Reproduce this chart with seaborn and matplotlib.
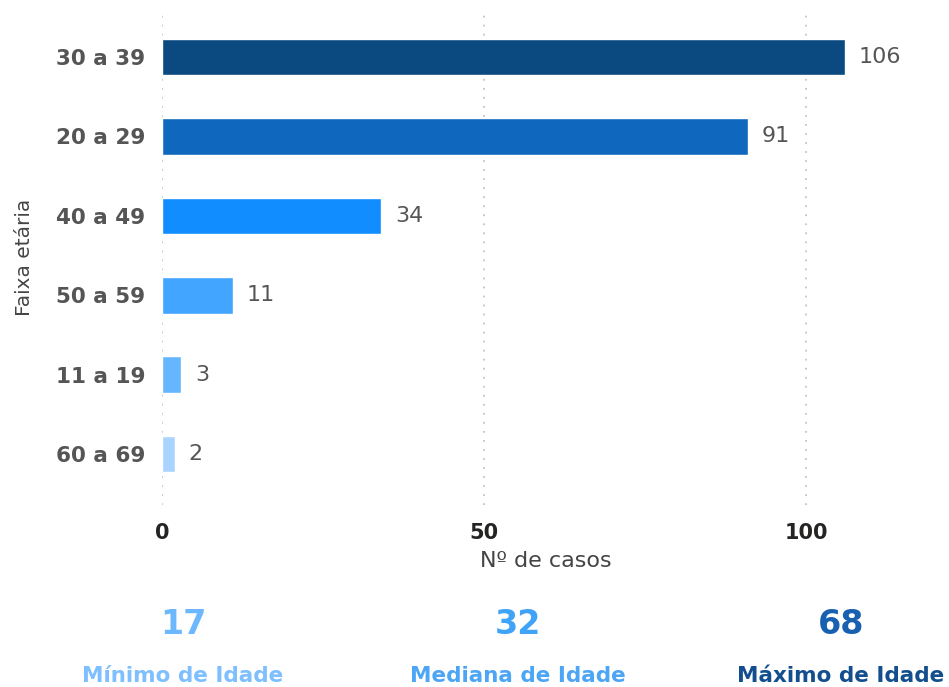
import matplotlib
matplotlib.use("Agg")
import matplotlib.pyplot as plt
import seaborn as sns
import pandas as pd

# Casos por faixa etária
faixas = ["30 a 39", "20 a 29", "40 a 49", "50 a 59", "11 a 19", "60 a 69"]
casos = [106, 91, 34, 11, 3, 2]
cores = ["#0B4A80", "#0F68BD", "#118DFF", "#42A5FF", "#66B5FF", "#A8D4FF"]

# Indicadores de idade
kpi_valores = ["17", "32", "68"]
kpi_rotulos = ["Mínimo de Idade", "Mediana de Idade", "Máximo de Idade"]
kpi_cor_valor = ["#6CB8FF", "#3FA3F7", "#1860B0"]
kpi_cor_rotulo = ["#7DBFFF", "#4DA6F5", "#134F8E"]

x_ticks = [0, 50, 100]

sns.set_theme(style="white")
plt.rcParams["font.family"] = ["DejaVu Sans"]

df = pd.DataFrame({"faixa": faixas, "casos": casos})

fig = plt.figure(figsize=(9.49, 6.87), dpi=100)
ax = fig.add_axes([162 / 949, 1 - 505 / 687, (930 - 162) / 949, (505 - 10) / 687])

sns.barplot(data=df, x="casos", y="faixa", hue="faixa", order=faixas,
            palette=dict(zip(faixas, cores)), orient="h", legend=False,
            width=0.46, ax=ax, saturation=1)

for cont in ax.containers:
    ax.bar_label(cont, padding=10, fontsize=16, color="#555555")

ax.set_xlim(0, (930 - 162) / 6.44)
ax.set_ylim(5.64, -0.59)
ax.set_xticks(x_ticks)
for xv in x_ticks:
    ax.axvline(xv, color="#C4C4C4", lw=1.3, ls=(0, (1, 4)), zorder=0)

for s in ax.spines.values():
    s.set_visible(False)
ax.tick_params(axis="both", length=0)
ax.tick_params(axis="x", pad=13, labelsize=15, labelcolor="#252423")
ax.tick_params(axis="y", pad=12, labelsize=15.5, labelcolor="#555555")
for lbl in ax.get_xticklabels() + ax.get_yticklabels():
    lbl.set_fontweight("bold")

ax.set_xlabel("Nº de casos", fontsize=16, color="#444444", labelpad=6)
ax.set_ylabel("Faixa etária", fontsize=14.5, color="#444444")
ax.yaxis.set_label_coords(-(162 - 34) / 768, 0.5)

kpi_x = [183, 518, 841]
for xp, v, r, cv, cr in zip(kpi_x, kpi_valores, kpi_rotulos, kpi_cor_valor, kpi_cor_rotulo):
    fig.text(xp / 949, 1 - 625 / 687, v, ha="center", va="center",
             fontsize=24, fontweight="bold", color=cv)
    fig.text(xp / 949, 1 - 676 / 687, r, ha="center", va="center",
             fontsize=15.5, fontweight="bold", color=cr)

fig.savefig("out.png", dpi=100)
